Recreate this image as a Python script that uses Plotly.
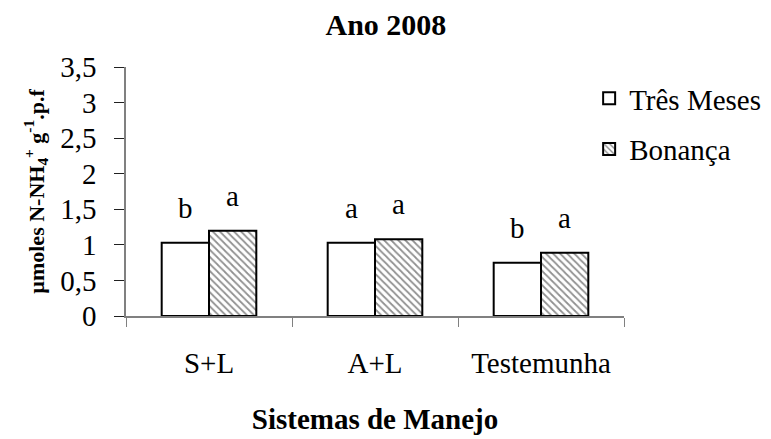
import plotly.graph_objects as go

categories = ["S+L", "A+L", "Testemunha"]
tres_meses = [1.03, 1.03, 0.75]
bonanca = [1.20, 1.08, 0.89]
letters_tres = ["b", "a", "b"]
letters_bon = ["a", "a", "a"]
series_names = ["Três Meses", "Bonança"]

FONT = "Liberation Serif, Times New Roman, serif"
FS = 29

fig = go.Figure()
fig.add_trace(go.Bar(
    x=categories, y=tres_meses, name=series_names[0], legendgroup="g1",
    marker=dict(color="white", line=dict(color="black", width=2)),
))
fig.add_trace(go.Bar(
    x=categories, y=bonanca, name=series_names[1], legendgroup="g2",
    marker=dict(color="white", line=dict(color="black", width=2),
                pattern=dict(shape="\\", fgcolor="#222222", bgcolor="white",
                             size=5, solidity=0.35)),
))

for cat, v, t in zip(categories, tres_meses, letters_tres):
    fig.add_annotation(x=cat, y=v, text=t, showarrow=False, xshift=-23.5,
                       yanchor="middle", yshift=35, font=dict(size=FS, family=FONT, color="black"))
for cat, v, t in zip(categories, bonanca, letters_bon):
    fig.add_annotation(x=cat, y=v, text=t, showarrow=False, xshift=23.5,
                       yanchor="middle", yshift=35, font=dict(size=FS, family=FONT, color="black"))

fig.update_layout(
    width=771, height=439,
    margin=dict(l=118, r=155, t=59, b=131),
    paper_bgcolor="white", plot_bgcolor="white",
    font=dict(family=FONT, size=FS, color="black"),
    separators=", ",
    barmode="group", bargap=0.43, bargroupgap=0,
    title=dict(text="<b>Ano 2008</b>", x=0.522, xref="paper", xanchor="center",
               y=0.962, yref="container", yanchor="middle", font=dict(size=30, family=FONT)),
    legend=dict(x=0.93, y=0.976, xanchor="left", yanchor="top",
                font=dict(size=FS, family=FONT), bgcolor="rgba(0,0,0,0)",
                tracegroupgap=10),
    showlegend=True,
)
fig.update_xaxes(
    type="category", tickson="boundaries", ticks="outside", ticklen=9,
    tickcolor="#808080", showline=True, linecolor="#808080", linewidth=1.5,
    showgrid=False, ticklabelstandoff=20,
    tickfont=dict(size=FS, family=FONT),
    title=dict(text="<b>Sistemas de Manejo</b>", font=dict(size=29, family=FONT), standoff=31),
)
fig.update_yaxes(
    range=[0, 3.5], dtick=0.5, ticks="outside", ticklen=10, tickcolor="#202020",
    showline=True, linecolor="#808080", linewidth=1.5, showgrid=False, zeroline=False,
    ticklabelstandoff=12,
    tickfont=dict(size=FS, family=FONT),
    title=dict(text="<b>µmoles N-NH<sub>4</sub><sup>+</sup> g<sup>-1</sup>.p.f</b>",
               font=dict(size=22, family=FONT), standoff=10),
)

fig.write_html("out.html")
